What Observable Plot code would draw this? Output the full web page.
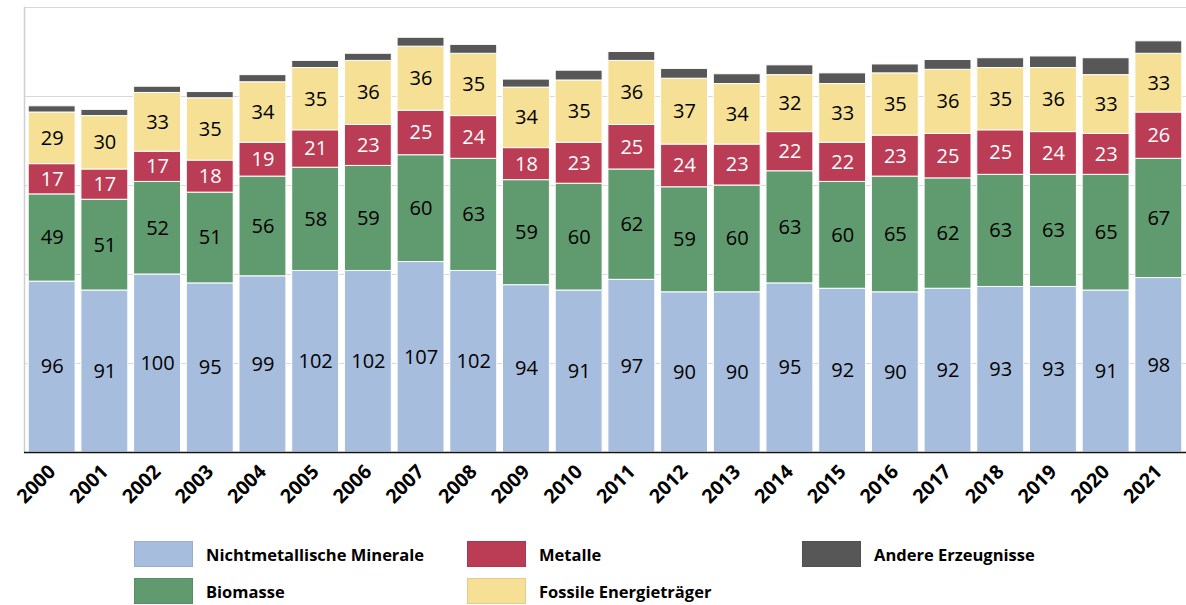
<!DOCTYPE html>
<html>
<head>
<meta charset="utf-8">
<script src="https://cdn.jsdelivr.net/npm/d3@7"></script>
<script src="https://cdn.jsdelivr.net/npm/@observablehq/plot@0.6"></script>
<style>
  html, body { margin: 0; padding: 0; background: #fff; }
  #chart { width: 1186px; }
  #legend { position: relative; width: 1186px; height: 95px; font-family: "Open Sans", sans-serif; }
  .item { position: absolute; display: flex; align-items: center; height: 26px; font-weight: 700; font-size: 16.5px; color: #000; }
  .sw { width: 57px; height: 24px; margin-right: 13px; border: 1px solid rgba(0,0,0,0.08); }
</style>
</head>
<body>
<div id="chart"></div>
<div id="legend"></div>
<script>
const years = ["2000","2001","2002","2003","2004","2005","2006","2007","2008","2009","2010","2011","2012","2013","2014","2015","2016","2017","2018","2019","2020","2021"];
const seriesNames = ["Nichtmetallische Minerale","Biomasse","Metalle","Fossile Energieträger","Andere Erzeugnisse"];
const seriesColors = ["#a7bddd","#609a6f","#bb3c55","#f6e096","#575757"];
const labelColors = ["#000","#000","#fff","#000",null];
const mineral  = [96,91,100,95,99,102,102,107,102,94,91,97,90,90,95,92,90,92,93,93,91,98];
const biomasse = [49,51,52,51,56,58,59,60,63,59,60,62,59,60,63,60,65,62,63,63,65,67];
const metalle  = [17,17,17,18,19,21,23,25,24,18,23,25,24,23,22,22,23,25,25,24,23,26];
const fossil   = [29,30,33,35,34,35,36,36,35,34,35,36,37,34,32,33,35,36,35,36,33,33];
const andere   = [3.5,3.5,3.5,3.5,4,4,4,5,5,4.5,5.5,5,5.5,5.5,5.5,6,5,5.5,5.5,6.5,9.5,7];
const gridTicks = [50,100,150,200,250];

const seriesValues = [mineral, biomasse, metalle, fossil, andere];
const data = [];
seriesNames.forEach((s, si) => {
  years.forEach((y, yi) => {
    data.push({year: y, series: s, value: seriesValues[si][yi], labelColor: labelColors[si]});
  });
});
const labeled = data.filter(d => d.labelColor);

const chart = Plot.plot({
  width: 1186,
  height: 510,
  marginTop: 7,
  marginBottom: 58,
  marginLeft: 24,
  marginRight: 0,
  style: {fontFamily: "Open Sans, sans-serif", background: "#fff"},
  x: {domain: years, paddingInner: 0.11, paddingOuter: 0.08, round: false, label: null},
  y: {domain: [0, 250], axis: null},
  color: {domain: seriesNames, range: seriesColors},
  marks: [
    Plot.ruleY(gridTicks, {stroke: "#d9d9d9", strokeWidth: 1.2}),
    Plot.frame({anchor: "left", stroke: "#cfcfcf", strokeWidth: 1.5}),
    Plot.barY(data, {x: "year", y: "value", fill: "series", order: seriesNames, stroke: "#fff", strokeWidth: 1}),
    Plot.text(labeled, Plot.stackY({x: "year", y: "value", z: "series", order: seriesNames, text: d => String(d.value), fill: "labelColor", fontSize: 20})),
    Plot.ruleY([0], {stroke: "#111", strokeWidth: 1.5}),
    Plot.axisX({tickRotate: -45, tickSize: 0, tickPadding: 16, fontWeight: "bold", fontSize: 19.5, fill: "#000", label: null})
  ]
});
document.getElementById("chart").appendChild(chart);

const legend = document.getElementById("legend");
const pos = [[134, 31], [134, 68], [467, 31], [467, 68], [802, 31]];
seriesNames.forEach((s, i) => {
  const it = document.createElement("div");
  it.className = "item";
  it.style.left = pos[i][0] + "px";
  it.style.top = pos[i][1] + "px";
  const sw = document.createElement("div");
  sw.className = "sw";
  sw.style.background = seriesColors[i];
  it.appendChild(sw);
  const t = document.createElement("span");
  t.textContent = s;
  it.appendChild(t);
  legend.appendChild(it);
});
</script>
</body>
</html>
